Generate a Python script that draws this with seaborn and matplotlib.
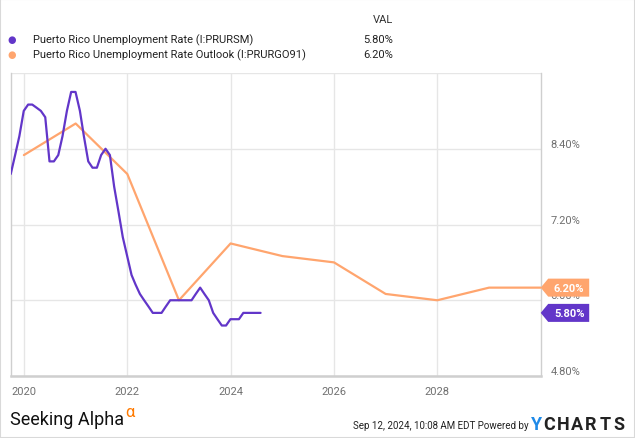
import pandas as pd
import seaborn as sns
import matplotlib.pyplot as plt
from matplotlib.patches import Polygon, Rectangle

# Puerto Rico unemployment rate, monthly (month-end)
rate_dates = pd.date_range("2019-09-30", "2024-07-31", freq="ME")
rate_values = [
    8.0, 8.3, 8.6, 9.0,
    9.1, 9.1, 9.05, 9.0, 8.9, 8.2, 8.2, 8.3, 8.6, 9.0, 9.3, 9.3,
    9.0, 8.6, 8.2, 8.1, 8.1, 8.3, 8.4, 8.3, 7.8, 7.4, 7.0, 6.7,
    6.4, 6.25, 6.1, 6.0, 5.9, 5.8, 5.8, 5.8, 5.9, 6.0, 6.0, 6.0,
    6.0, 6.0, 6.0, 6.1, 6.2, 6.1, 6.0, 5.8, 5.7, 5.6, 5.6, 5.7,
    5.7, 5.7, 5.8, 5.8, 5.8, 5.8, 5.8,
]

# outlook, yearly
outlook_dates = pd.to_datetime([f"{y}-01-01" for y in range(2020, 2031)])
outlook_values = [8.3, 8.8, 8.0, 6.0, 6.9, 6.7, 6.6, 6.1, 6.0, 6.2, 6.2]

series_names = ["Puerto Rico Unemployment Rate (I:PRURSM)",
                "Puerto Rico Unemployment Rate Outlook (I:PRURGO91)"]
series_colors = ["#6236c9", "#ffa56e"]
last_values = ["5.80%", "6.20%"]

y_ticks = [4.8, 6.0, 7.2, 8.4]
x_tick_years = [2020, 2022, 2024, 2026, 2028]

sns.set_style("white")
plt.rcParams["font.family"] = ["Roboto", "DejaVu Sans"]

fig = plt.figure(figsize=(6.35, 4.39), dpi=100)
ax = fig.add_axes([0.0169, 0.1412, 0.8346, 0.6902])

df_rate = pd.DataFrame({"date": rate_dates, "value": rate_values})
df_out = pd.DataFrame({"date": outlook_dates, "value": outlook_values})
sns.lineplot(data=df_out, x="date", y="value", ax=ax, color=series_colors[1], linewidth=1.6, zorder=3)
sns.lineplot(data=df_rate, x="date", y="value", ax=ax, color=series_colors[0], linewidth=1.6, zorder=4)

ax.set_xlim(rate_dates[0], pd.Timestamp("2030-01-01"))
ax.set_ylim(4.8, 9.6)
ax.set_xlabel("")
ax.set_ylabel("")

ax.set_xticks(pd.to_datetime([f"{y}-01-01" for y in x_tick_years]))
ax.set_xticklabels([str(y) for y in x_tick_years])
ax.yaxis.tick_right()
ax.set_yticks(y_ticks)
ax.set_yticklabels([f"{v:.2f}%" for v in y_ticks])
ax.tick_params(axis="both", length=0, labelsize=8, labelcolor="#707070")
ax.tick_params(axis="x", pad=7)
ax.tick_params(axis="y", pad=7)
for lab in ax.get_yticklabels():
    lab.set_verticalalignment("bottom")

ax.grid(True, color="#e6e6e6", linewidth=1)
ax.axhline(9.6, color="#e6e6e6", linewidth=1, zorder=0)
for side in ["left", "right"]:
    ax.spines[side].set_color("#cfcfcf")
    ax.spines[side].set_linewidth(1)
ax.spines["bottom"].set_color("#cfcfcf")
ax.spines["bottom"].set_linewidth(1.8)
ax.spines["top"].set_visible(False)

# value tags on the right edge
trans = ax.get_yaxis_transform()
px_x = 1 / 530.0
px_y = 4.8 / 302.8
for val, col, txt in [(rate_values[-1], series_colors[0], last_values[0]),
                      (outlook_values[-1], series_colors[1], last_values[1])]:
    hh = 9 * px_y
    pts = [(1.0, val), (1 + 7.5 * px_x, val + hh), (1 + 48.5 * px_x, val + hh),
           (1 + 48.5 * px_x, val - hh), (1 + 7.5 * px_x, val - hh)]
    ax.add_patch(Polygon(pts, closed=True, transform=trans, clip_on=False,
                         facecolor=col, edgecolor="none", zorder=10))
    ax.text(1 + 28.5 * px_x, val, txt, transform=trans, ha="center", va="center",
            color="white", fontsize=8, fontweight="bold", zorder=11, clip_on=False)

# legend header
fig.text(393 / 635, 1 - 20 / 439, "VAL", ha="right", va="center", fontsize=8, color="#333333")
for i, (name, col, val) in enumerate(zip(series_names, series_colors, last_values)):
    yy = 1 - (40 + 15 * i) / 439
    fig.text(12 / 635, yy, "\u25CF", ha="center", va="center", fontsize=7, color=col)
    fig.text(33 / 635, yy, name, ha="left", va="center", fontsize=8, color="#222222")
    fig.text(393 / 635, yy, val, ha="right", va="center", fontsize=8, color="#222222")

# footer
fig.text(10 / 635, 1 - 420 / 439, "Seeking Alpha", ha="left", va="center", fontsize=13, color="#111111")
fig.text(125 / 635, 1 - 413 / 439, "\u03B1", ha="left", va="center", fontsize=12, color="#ff7a00")
fig.text(529 / 635, 1 - 426 / 439, "Sep 12, 2024, 10:08 AM EDT Powered by", ha="right", va="center",
         fontsize=7, color="#222222")
fig.text(531 / 635, 1 - 425 / 439, "Y", ha="left", va="center", fontsize=13, fontweight="bold", color="#1f8ae8")
for k, ch in enumerate("CHARTS"):
    fig.text((549 + 14 * k) / 635, 1 - 425 / 439, ch, ha="center", va="center",
             fontsize=13, fontweight="bold", color="#222222")

fig.patches.append(Rectangle((0, 0), 1, 1, transform=fig.transFigure, fill=False,
                             edgecolor="#d9d9d9", linewidth=1.5))

fig.savefig("out.png", dpi=100)
